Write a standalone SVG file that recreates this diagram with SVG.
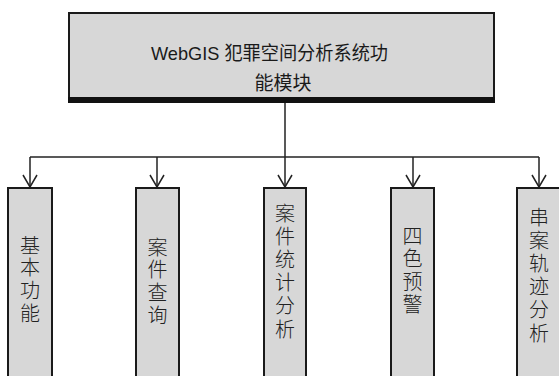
<svg xmlns="http://www.w3.org/2000/svg" width="559" height="376" viewBox="0 0 559 376">
<style>
.box{fill:#d7d7d7;stroke:#1a1a1a;stroke-width:2}
.cn{font-family:"Noto Sans CJK SC","Noto Sans",sans-serif;font-size:20px;font-weight:300;fill:#222;writing-mode:vertical-rl;text-orientation:upright}
.s1{letter-spacing:2.7px}
.s2{letter-spacing:3.2px}
.top{font-family:"Liberation Sans","Noto Sans CJK SC",sans-serif;font-size:19px;fill:#1a1a1a}
.ln{stroke:#222;stroke-width:1.5;fill:none}
</style>
<defs>
<marker id="ar" markerUnits="userSpaceOnUse" markerWidth="16" markerHeight="18" viewBox="-14 -9 16 18" refX="0" refY="0" orient="auto">
<path d="M-12,-7 L0,0 L-12,7" fill="none" stroke="#222" stroke-width="1.5"/>
</marker>
</defs>
<rect width="559" height="376" fill="#fff"/>
<g id="root">
<rect class="box" x="69" y="13" width="425" height="87"/>
<rect x="68" y="97" width="427" height="6" fill="#111"/>
<text class="top" x="151" y="60" textLength="237" lengthAdjust="spacingAndGlyphs">WebGIS 犯罪空间分析系统功</text>
<text class="top" x="283" y="90" text-anchor="middle">能模块</text>
</g>
<g id="connectors">
<path class="ln" d="M285,103 V157"/>
<path class="ln" d="M30,157 H539"/>
<path class="ln" d="M30,157 V187" marker-end="url(#ar)"/>
<path class="ln" d="M157,157 V187" marker-end="url(#ar)"/>
<path class="ln" d="M285,157 V187" marker-end="url(#ar)"/>
<path class="ln" d="M413,157 V187" marker-end="url(#ar)"/>
<path class="ln" d="M539,157 V187" marker-end="url(#ar)"/>
</g>
<g id="n1">
<rect class="box" x="8" y="188" width="44" height="200"/>
<text class="cn s1" x="30" y="235">基本功能</text>
</g>
<g id="n2">
<rect class="box" x="136" y="188" width="43" height="200"/>
<text class="cn s1" x="157.5" y="237">案件查询</text>
</g>
<g id="n3">
<rect class="box" x="264" y="188" width="42" height="200"/>
<text class="cn s2" x="285" y="203">案件统计分析</text>
</g>
<g id="n4">
<rect class="box" x="391" y="188" width="43" height="200"/>
<text class="cn s1" x="412.5" y="226">四色预警</text>
</g>
<g id="n5">
<rect class="box" x="517" y="188" width="44" height="200"/>
<text class="cn s2" x="539" y="207">串案轨迹分析</text>
</g>
</svg>
